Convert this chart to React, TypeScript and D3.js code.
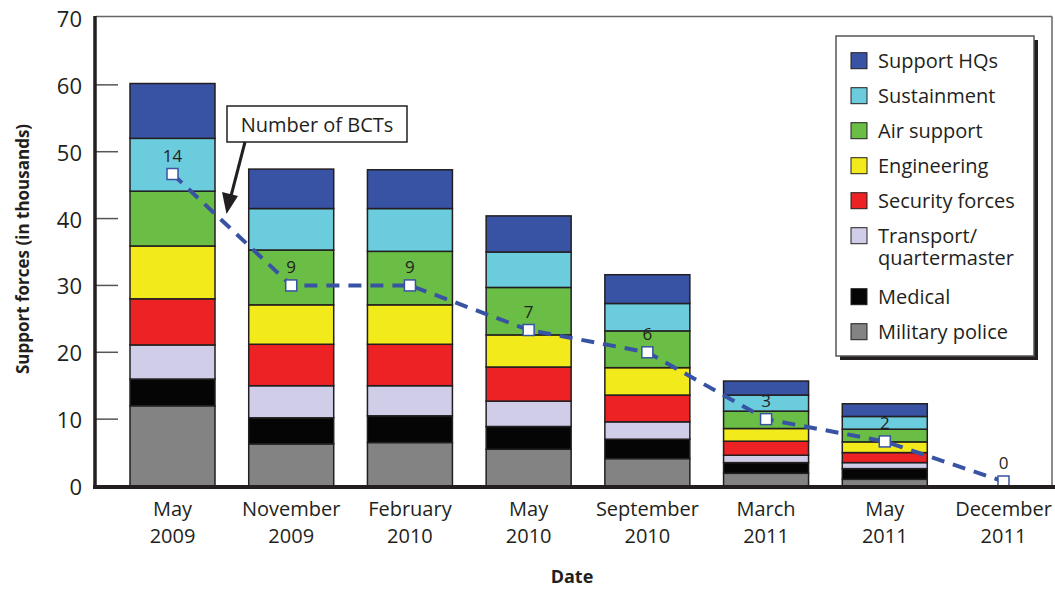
import * as d3 from 'd3';

// Bars, bottom to top (thousands)
const months = ['May', 'November', 'February', 'May', 'September', 'March', 'May', 'December'];
const years = ['2009', '2009', '2010', '2010', '2010', '2011', '2011', '2011'];

const militaryPolice = [12.0, 6.3, 6.5, 5.5, 4.1, 1.9, 1.0, 0];
const medical = [4.0, 3.9, 4.0, 3.4, 2.9, 1.6, 1.6, 0];
const transport = [5.1, 4.8, 4.5, 3.8, 2.6, 1.1, 0.9, 0];
const securityForces = [6.9, 6.2, 6.2, 5.1, 4.0, 2.1, 1.5, 0];
const engineering = [7.9, 5.9, 5.9, 4.8, 4.1, 1.9, 1.6, 0];
const airSupport = [8.2, 8.2, 8.0, 7.1, 5.5, 2.6, 1.9, 0];
const sustainment = [7.9, 6.2, 6.4, 5.3, 4.1, 2.4, 1.9, 0];
const supportHQs = [8.2, 5.9, 5.8, 5.4, 4.3, 2.1, 1.9, 0];

// Number of BCTs (drawn against a 0-21 scale on the same height)
const bcts = [14, 9, 9, 7, 6, 3, 2, 0];

const yTicks = [0, 10, 20, 30, 40, 50, 60, 70];

const seriesKeys = ['mp', 'med', 'trans', 'sec', 'eng', 'air', 'sust', 'hq'];
const seriesNames = [
  ['Military police'],
  ['Medical'],
  ['Transport/', 'quartermaster'],
  ['Security forces'],
  ['Engineering'],
  ['Air support'],
  ['Sustainment'],
  ['Support HQs'],
];
const seriesColors = ['#838383', '#050505', '#cfcde8', '#ed2224', '#f2ea1b', '#6abd45', '#6accdc', '#3853a4'];
const seriesValues = [militaryPolice, medical, transport, securityForces, engineering, airSupport, sustainment, supportHQs];

const W = 1055;
const H = 590;
const FONT = '"Open Sans", "Noto Sans", sans-serif';
const INK = '#231f20';
const BLUE = '#3853a4';

export default function App() {
  const labels = months.map((m, i) => `${m} ${years[i]}`);
  const rows = labels.map((label, i) => {
    const r: Record<string, number | string> = { label };
    seriesKeys.forEach((k, s) => (r[k] = seriesValues[s][i]));
    return r;
  });

  const x = d3.scaleBand<string>().domain(labels).range([97, 1079]).paddingInner(0.284).paddingOuter(0.278);
  const y = d3.scaleLinear().domain([0, 70]).range([486, 18]);
  const yB = d3.scaleLinear().domain([0, 21]).range([486, 18]);

  const stack = d3.stack<Record<string, number | string>>().keys(seriesKeys);
  const layers = stack(rows as any);

  const left = 96;
  const right = 1052;
  const top = y(70);
  const bottom = 487;

  const pts = bcts.map((b, i) => {
    const cx = (x(labels[i]) ?? 0) + x.bandwidth() / 2;
    const cy = Math.min(yB(b), bottom - 5.5);
    return [cx, cy] as [number, number];
  });
  const line = d3.line();

  // legend layout (top to bottom)
  const legendOrder = d3.range(seriesKeys.length).reverse();
  let ly = 60.7;
  const legendRows = legendOrder.map((s) => {
    const row = { s, y: ly };
    ly += 35 + (seriesNames[s].length - 1) * 26;
    return row;
  });

  return (
    <>
      <style>{`body{margin:0}`}</style>
      <svg width={W} height={H} style={{ display: 'block', background: '#fff' }} fontFamily={FONT}>
        {/* frame */}
        <line x1={left} x2={right} y1={top - 1.5} y2={top - 1.5} stroke="#666" strokeWidth={1.5} />
        <line x1={right} x2={right} y1={top - 1.5} y2={bottom} stroke="#666" strokeWidth={1.5} />

        {/* y ticks */}
        {yTicks.map((t) => (
          <g key={t}>
            {t > 0 && t < 70 && <line x1={left} x2={118} y1={y(t)} y2={y(t)} stroke="#555" strokeWidth={1.5} />}
            <text x={82} y={y(t)} textAnchor="end" dominantBaseline="central" fontSize={22} fill={INK}>
              {t}
            </text>
          </g>
        ))}

        {/* bars */}
        {layers.map((layer, s) => (
          <g key={seriesKeys[s]}>
            {layer.map((d, i) =>
              d[1] - d[0] > 0 ? (
                <rect
                  key={i}
                  x={x(labels[i])}
                  width={x.bandwidth()}
                  y={y(d[1])}
                  height={y(d[0]) - y(d[1])}
                  fill={seriesColors[s]}
                  stroke={INK}
                  strokeWidth={1.5}
                />
              ) : null
            )}
          </g>
        ))}

        {/* BCT line */}
        <path d={line(pts) ?? ''} fill="none" stroke={BLUE} strokeWidth={4} strokeDasharray="13 9" />
        {pts.map(([cx, cy], i) => (
          <g key={i}>
            <rect x={cx - 5.5} y={cy - 5.5} width={11} height={11} fill="#fff" stroke={BLUE} strokeWidth={1.5} />
            <text x={cx} y={cy - 12.5} textAnchor="middle" fontSize={17} fill={INK}>
              {bcts[i]}
            </text>
          </g>
        ))}

        {/* axes */}
        <line x1={left - 1} x2={left - 1} y1={top - 2} y2={bottom + 2} stroke={INK} strokeWidth={3.5} />
        <line x1={left - 3} x2={W} y1={bottom} y2={bottom} stroke={INK} strokeWidth={4} />

        {/* x labels */}
        {labels.map((l, i) => {
          const cx = (x(l) ?? 0) + x.bandwidth() / 2;
          return (
            <text key={l} x={cx} textAnchor="middle" fontSize={20} fill={INK}>
              <tspan x={cx} y={516}>{months[i]}</tspan>
              <tspan x={cx} y={543}>{years[i]}</tspan>
            </text>
          );
        })}

        {/* axis titles */}
        <text x={572} y={583} textAnchor="middle" fontSize={18} fontWeight="bold" fill={INK}>
          Date
        </text>
        <text
          transform="translate(22,249) rotate(-90)"
          textAnchor="middle"
          dominantBaseline="central"
          fontSize={17}
          fontWeight="bold"
          fill={INK}
        >
          Support forces (in thousands)
        </text>

        {/* annotation */}
        <rect x={227} y={106} width={180} height={36} fill="#fff" stroke={INK} strokeWidth={1.5} />
        <text x={317} y={124} textAnchor="middle" dominantBaseline="central" fontSize={20} fill={INK}>
          Number of BCTs
        </text>
        <line x1={245} y1={142} x2={231} y2={196} stroke={INK} strokeWidth={3} />
        <path d="M226.5,214 L222,192 L238,196 Z" fill={INK} />

        {/* legend */}
        <rect x={840} y={40} width={198} height={320} fill={INK} />
        <rect x={836} y={36} width={198} height={320} fill="#fff" stroke="#555" strokeWidth={1.5} />
        {legendRows.map(({ s, y: ry }) => (
          <g key={seriesKeys[s]}>
            <rect x={851} y={ry - 8} width={16} height={16} fill={seriesColors[s]} stroke={INK} strokeWidth={1} />
            {seriesNames[s].map((t, k) => (
              <text key={k} x={878} y={ry + k * 22} dominantBaseline="central" fontSize={20} fill={INK}>
                {t}
              </text>
            ))}
          </g>
        ))}
      </svg>
    </>
  );
}
